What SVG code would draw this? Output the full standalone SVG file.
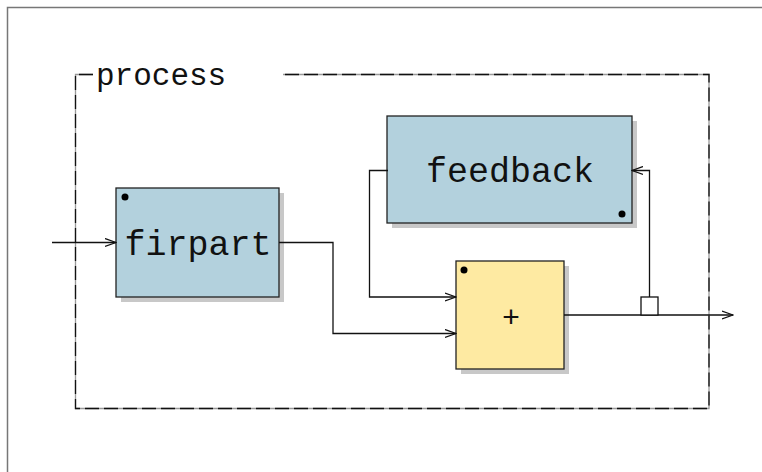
<svg xmlns="http://www.w3.org/2000/svg" width="762" height="472" viewBox="0 0 762 472">
<style>
.lbl{font-family:"Liberation Mono","Courier New",monospace;fill:#111;}
.box{stroke:#222;stroke-width:1.3;}
.sh{fill:#c8c8c8;}
.wire{fill:none;stroke:#111;stroke-width:1.3;}
.frameg{fill:none;stroke:#999;stroke-width:1.3;}
.framed{fill:none;stroke:#111;stroke-width:1.3;stroke-dasharray:14 5;}
</style>
<defs>
<marker id="arr" viewBox="0 0 12 10" refX="11" refY="5" markerWidth="12" markerHeight="10" markerUnits="userSpaceOnUse" orient="auto">
<path d="M0,1 L11,5 L0,9" fill="none" stroke="#111" stroke-width="1.3"/>
</marker>
</defs>
<rect width="762" height="472" fill="#fff"/>
<path d="M7.5,472 V7.5 H762" fill="none" stroke="#777" stroke-width="1.5"/>
<g id="process">
<path class="frameg" d="M93,74.5 H75.5 V408.5 H709 V74.5 H283"/>
<path class="framed" d="M93,74.5 H75.5 V408.5 H709 V74.5 H283"/>
<text class="lbl" x="96" y="85" font-size="31">process</text>
</g>
<g id="firpart">
<rect class="sh" x="121" y="193" width="163" height="109"/>
<rect class="box" x="116" y="188" width="163" height="109" fill="#b3d1dd"/>
<circle cx="125" cy="197" r="3.5" fill="#000"/>
<text class="lbl" x="198" y="255" font-size="35" text-anchor="middle">firpart</text>
</g>
<g id="feedback">
<rect class="sh" x="392" y="121" width="245" height="107"/>
<rect class="box" x="387" y="116" width="245" height="107" fill="#b3d1dd"/>
<circle cx="622" cy="214" r="3.5" fill="#000"/>
<text class="lbl" x="510" y="182" font-size="35" text-anchor="middle">feedback</text>
</g>
<g id="plus">
<rect class="sh" x="461" y="266" width="108" height="108"/>
<rect class="box" x="456" y="261" width="108" height="108" fill="#feeaa2"/>
<circle cx="464" cy="270" r="3.5" fill="#000"/>
<text class="lbl" x="511" y="327" font-size="30" text-anchor="middle">+</text>
</g>
<g id="connectors">
<path class="wire" d="M52,242.5 H116" marker-end="url(#arr)"/>
<path class="wire" d="M279,242.5 H333 V333.5 H456" marker-end="url(#arr)"/>
<path class="wire" d="M388,170.5 H369.5 V297 H456" marker-end="url(#arr)"/>
<path class="wire" d="M564,315 H733" marker-end="url(#arr)"/>
<path class="wire" d="M649.5,297 V170.5 H632" marker-end="url(#arr)"/>
<rect x="641" y="297" width="17" height="18" fill="#fff" stroke="#111" stroke-width="1.3"/>
</g>
</svg>
